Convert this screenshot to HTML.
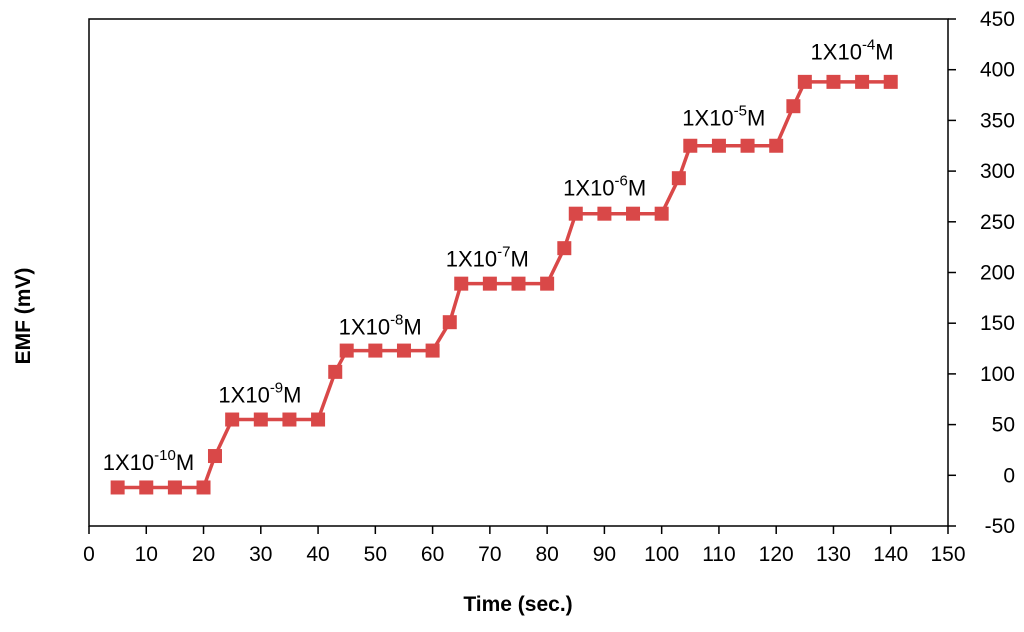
<!DOCTYPE html>
<html><head><meta charset="utf-8"><style>
body{margin:0;background:#fff}
svg{font-family:"Liberation Sans",sans-serif}
</style></head><body>
<svg id="chart" width="1024" height="627" xmlns="http://www.w3.org/2000/svg">
<g id="g"></g>
</svg>
<script>
const times=[5,10,15,20,22,25,30,35,40,43,45,50,55,60,63,65,70,75,80,83,85,90,95,100,103,105,110,115,120,123,125,130,135,140];
const emf=[-12,-12,-12,-12,19,55,55,55,55,102,123,123,123,123,151,189,189,189,189,224,258,258,258,258,293,325,325,325,325,364,388,388,388,388];
const xTicks=[0,10,20,30,40,50,60,70,80,90,100,110,120,130,140,150];
const yTicks=[-50,0,50,100,150,200,250,300,350,400,450];
const annLabels=["-10","-9","-8","-7","-6","-5","-4"];
const annX=[2.4,22.6,43.6,62.3,82.8,103.6,126];
const annY=[5,72,139,206,276,345,410];
const L=89,R=948,T=19,B=526;
const sx=v=>L+(v-0)/150*(R-L);
const sy=v=>B-(v+50)/500*(B-T);
const NS="http://www.w3.org/2000/svg";
const g=document.getElementById('g');
function mk(t,a,txt){const e=document.createElementNS(NS,t);for(const k in a)e.setAttribute(k,a[k]);if(txt!=null)e.textContent=txt;g.appendChild(e);return e;}
let e;
e=mk('rect',{x:L,y:T,width:R-L,height:B-T,fill:'none',stroke:'#000','stroke-width':1.5});


xTicks.forEach(v=>{
 e=mk('line',{x1:sx(v),x2:sx(v),y1:B,y2:B+8,stroke:'#000','stroke-width':1.5});
 
 
 e=mk('text',{x:sx(v),y:B+35,'text-anchor':'middle','font-size':21},v);
 
 
});
yTicks.forEach(v=>{
 e=mk('line',{x1:R,x2:R+8,y1:sy(v),y2:sy(v),stroke:'#000','stroke-width':1.5});
 
 
 e=mk('text',{x:1015,y:sy(v)+7,'text-anchor':'end','font-size':21},v);
 
 
});
e=mk('text',{x:518,y:611,'text-anchor':'middle','font-size':21,'font-weight':'bold'},'Time (sec.)');


e=mk('text',{x:0,y:0,'text-anchor':'middle','font-size':21,'font-weight':'bold',transform:'translate(30,316) rotate(-90)'},'EMF (mV)');


e=mk('polyline',{points:times.map((t,i)=>sx(t)+','+sy(emf[i])).join(' '),fill:'none',stroke:'#d94848','stroke-width':3.5});


times.forEach((t,i)=>{
 e=mk('rect',{x:sx(t)-7,y:sy(emf[i])-7,width:14,height:14,fill:'#d94848'});
 
 
});
annLabels.forEach((s,i)=>{
 e=mk('text',{x:sx(annX[i]),y:sy(annY[i]),'font-size':22});
 
 
 e.innerHTML='1X10<tspan dy="-10" font-size="15">'+s+'</tspan><tspan dy="10">M</tspan>';
});
</script>
</body></html>
